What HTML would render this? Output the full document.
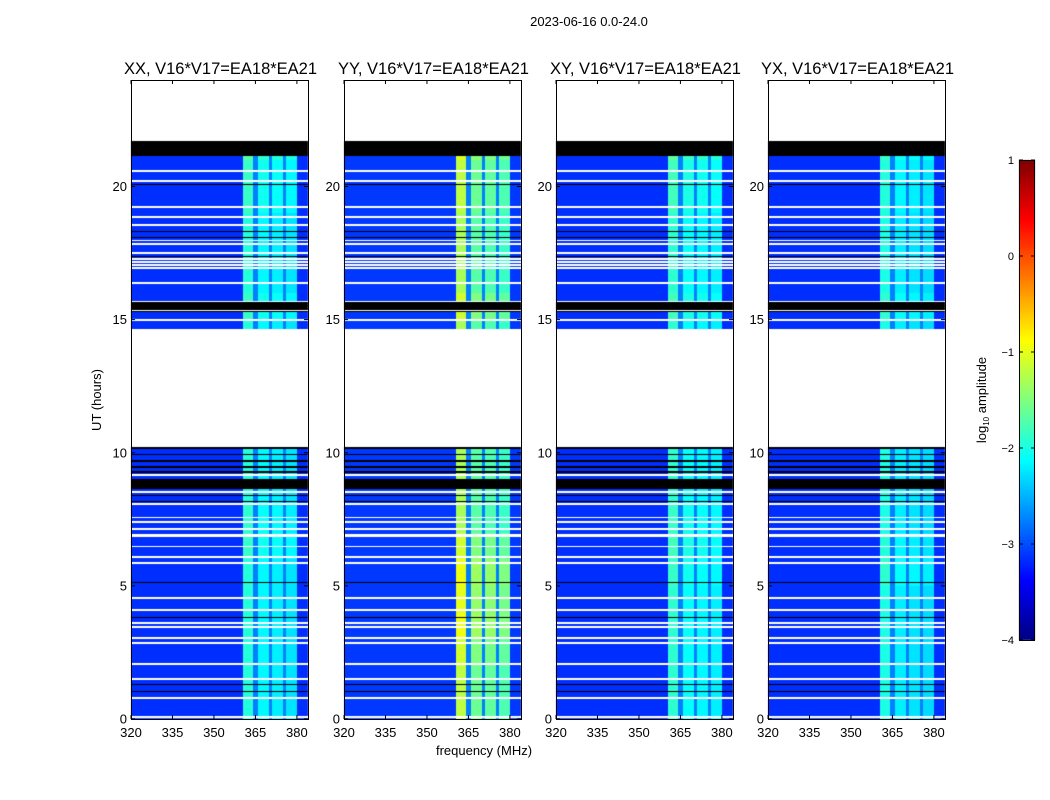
<!DOCTYPE html>
<html><head><meta charset="utf-8"><style>
body{margin:0;background:#fff;width:1050px;height:800px;overflow:hidden;position:relative;font-family:"Liberation Sans",sans-serif}
canvas{position:absolute;left:0;top:0}
svg{position:absolute;left:0;top:0}
</style></head><body>
<canvas id="cv" width="1050" height="800"></canvas>
<svg id="sv" width="1050" height="800"></svg>
<script>
// ---- data ----
const panelTitles = ["XX, V16*V17=EA18*EA21","YY, V16*V17=EA18*EA21","XY, V16*V17=EA18*EA21","YX, V16*V17=EA18*EA21"];
const panelLeft = [131,344,556,768];
const xTicks = [320,335,350,365,380];
const yTicks = [0,5,10,15,20];
const cbTicks = [1,0,-1,-2,-3,-4];
// time blocks with data (hours)
const dataBlocks = [[0,10.2],[14.66,15.28],[15.7,21.15]];
// black (zero) row segments, hours
const blackRows = [[21.15,21.7],[15.35,15.68],[15.28,15.32],[10.15,10.22],[9.92,9.97],[9.66,9.71],[9.44,9.49],[9.25,9.3],[8.62,9.0],[8.36,8.42],[8.16,8.2],[6.41,6.44],[5.96,5.99],[5.1,5.13],[3.79,3.82],[1.27,1.3],[1.01,1.04],[20.05,20.08],[19.93,19.96],[19.63,19.66],[18.28,18.31],[18.06,18.09],[17.36,17.39]];
// flagged (white) rows, hours
const whiteRows = [7.57,7.39,7.13,6.92,6.86,6.48,6.07,5.85,4.54,4.09,3.62,3.45,3.04,2.86,2.06,1.5,0.8,0.09,9.16,8.52,8.07,20.57,20.2,19.22,18.85,18.55,17.97,17.85,17.51,17.29,17.16,17.04,16.95,16.39,15.43,14.97];
// channel sub-bands (MHz) and levels per panel
const subBands = [[360.5,364],[365.8,369.8],[370.9,374.9],[376,380]];
const bandLevelsXX = [-1.95,-2.15,-2.2,-2.25];
const bandLevelsYY = [-1.3,-1.7,-1.75,-1.85];
const bandLevelsXY = [-1.9,-2.1,-2.15,-2.2];
const bandLevelsYX = [-2.0,-2.2,-2.25,-2.3];
const panelBands = [bandLevelsXX,bandLevelsYY,bandLevelsXY,bandLevelsYX];
const baseLevel = [-3.15,-3.1,-3.15,-3.15];
const gapLevel = -2.75;
// per-hour band boost (hours 0..23)
const hourBoostXX = [0,0,0,0,0,0,0.1,0.05,0,0,0,0,0,0,0,0.1,0,0,0,0.1,0.1,0.25,0,0];
const hourBoostYY = [0.1,0.1,0.2,0.35,0.3,0.35,0.2,0,0,0,0,0,0,0,0,0.2,0,0,0,0.1,0.1,0.25,0,0];
const hourBoostXY = [0,0,0,0,0,0.05,0.1,0.05,0,0,0,0,0,0,0,0.1,0,0,0,0.1,0.1,0.25,0,0];
const hourBoostYX = [0,0,0,0,0,0.1,0.05,0,0,0,0,0,0,0,0,0.1,0,0,0,0.05,0.05,0.15,0,0];
const panelBoost = [hourBoostXX,hourBoostYY,hourBoostXY,hourBoostYX];

// ---- axes ----
const PW=177, TOP=80, BOT=719;
const fx=(f,i)=>panelLeft[i]+(f-320)*2.765;
const fy=h=>BOT-h*(BOT-TOP)/24;
const cbY=v=>160+(1-v)*96;
function jet(v){let t=(v+4)/5;t=Math.max(0,Math.min(1,t));
 const c=x=>Math.round(255*Math.max(0,Math.min(1,x)));
 return [c(1.5-Math.abs(4*t-3)),c(1.5-Math.abs(4*t-2)),c(1.5-Math.abs(4*t-1))];}

const ctx=document.getElementById('cv').getContext('2d');
const inSeg=(h,segs)=>segs.some(s=>h>=s[0]&&h<s[1]);
for(let p=0;p<4;p++){
 for(let y=TOP;y<BOT;y++){
  const h=(BOT-y-0.5)*24/(BOT-TOP);
  let rowColor=null;
  if(inSeg(h,blackRows)) rowColor='#000';
  else if(!inSeg(h,dataBlocks) || whiteRows.some(w=>Math.abs(w-h)<0.035)) rowColor='#fff';
  if(rowColor){ctx.fillStyle=rowColor;ctx.fillRect(panelLeft[p],y,PW,1);continue;}
  const boost=panelBoost[p][Math.floor(h)]||0;
  for(let x=0;x<PW;x++){
   const f=320+(x+0.5)/2.765;
   let v=baseLevel[p];
   if(f>=360.5&&f<380){v=gapLevel;subBands.forEach((b,k)=>{if(f>=b[0]&&f<b[1])v=panelBands[p][k]+boost;});}
   const c=jet(v);ctx.fillStyle=`rgb(${c[0]},${c[1]},${c[2]})`;ctx.fillRect(panelLeft[p]+x,y,1,1);
  }
 }
}
// colorbar
for(let y=160;y<640;y++){const v=1-(y-160)/96;const c=jet(v);ctx.fillStyle=`rgb(${c[0]},${c[1]},${c[2]})`;ctx.fillRect(1019,y,16,1);}

// ---- svg ----
const sv=document.getElementById('sv');const NS='http://www.w3.org/2000/svg';
function mk(tag,at,txt){const e=document.createElementNS(NS,tag);for(const k in at)e.setAttribute(k,at[k]);if(txt!=null)e.textContent=txt;sv.appendChild(e);return e;}
let t=mk('text',{x:589,y:26,'font-size':13,'text-anchor':'middle'},'2023-06-16 0.0-24.0');


for(let p=0;p<4;p++){
 const L=panelLeft[p];
 let r=mk('rect',{x:L+0.5,y:TOP+0.5,width:PW,height:BOT-TOP,fill:'none',stroke:'#000','stroke-width':1});
 
 
 let tt=mk('text',{x:L+PW/2+1,y:74,'font-size':16.5,'text-anchor':'middle'},panelTitles[p]);
 
 
 xTicks.forEach(v=>{const x=fx(v,p);
  mk('line',{x1:x,x2:x,y1:BOT,y2:BOT-4,stroke:'#000'});mk('line',{x1:x,x2:x,y1:TOP,y2:TOP+4,stroke:'#000'});
  const l=mk('text',{x:x,y:737,'font-size':13,'text-anchor':'middle'},v);
  
  });
 yTicks.forEach(v=>{const y=fy(v);
  mk('line',{x1:L,x2:L+4,y1:y,y2:y,stroke:'#000'});mk('line',{x1:L+PW,x2:L+PW-4,y1:y,y2:y,stroke:'#000'});
  const l=mk('text',{x:L-4,y:y+4.5,'font-size':13,'text-anchor':'end'},v);
  
  });
}
t=mk('text',{x:484,y:755,'font-size':13,'text-anchor':'middle'},'frequency (MHz)');


t=mk('text',{x:0,y:0,'font-size':13,'text-anchor':'middle',transform:'translate(101,400) rotate(-90)'},'UT (hours)');


let cb=mk('rect',{x:1019.5,y:160.5,width:15,height:480,fill:'none',stroke:'#000'});


cbTicks.forEach(v=>{const y=cbY(v);
 mk('line',{x1:1019,x2:1023,y1:y,y2:y,stroke:'#000'});mk('line',{x1:1035,x2:1031,y1:y,y2:y,stroke:'#000'});
 const l=mk('text',{x:1014,y:y+4,'font-size':11,'text-anchor':'end'},v<0?'\u2212'+(-v):v);
 
 });
const cl=mk('text',{x:0,y:0,'font-size':13,'text-anchor':'middle',transform:'translate(986,400) rotate(-90)'});


cl.innerHTML='log<tspan font-size="8" dy="3">10</tspan><tspan dy="-3"> amplitude</tspan>';
</script>
</body></html>
